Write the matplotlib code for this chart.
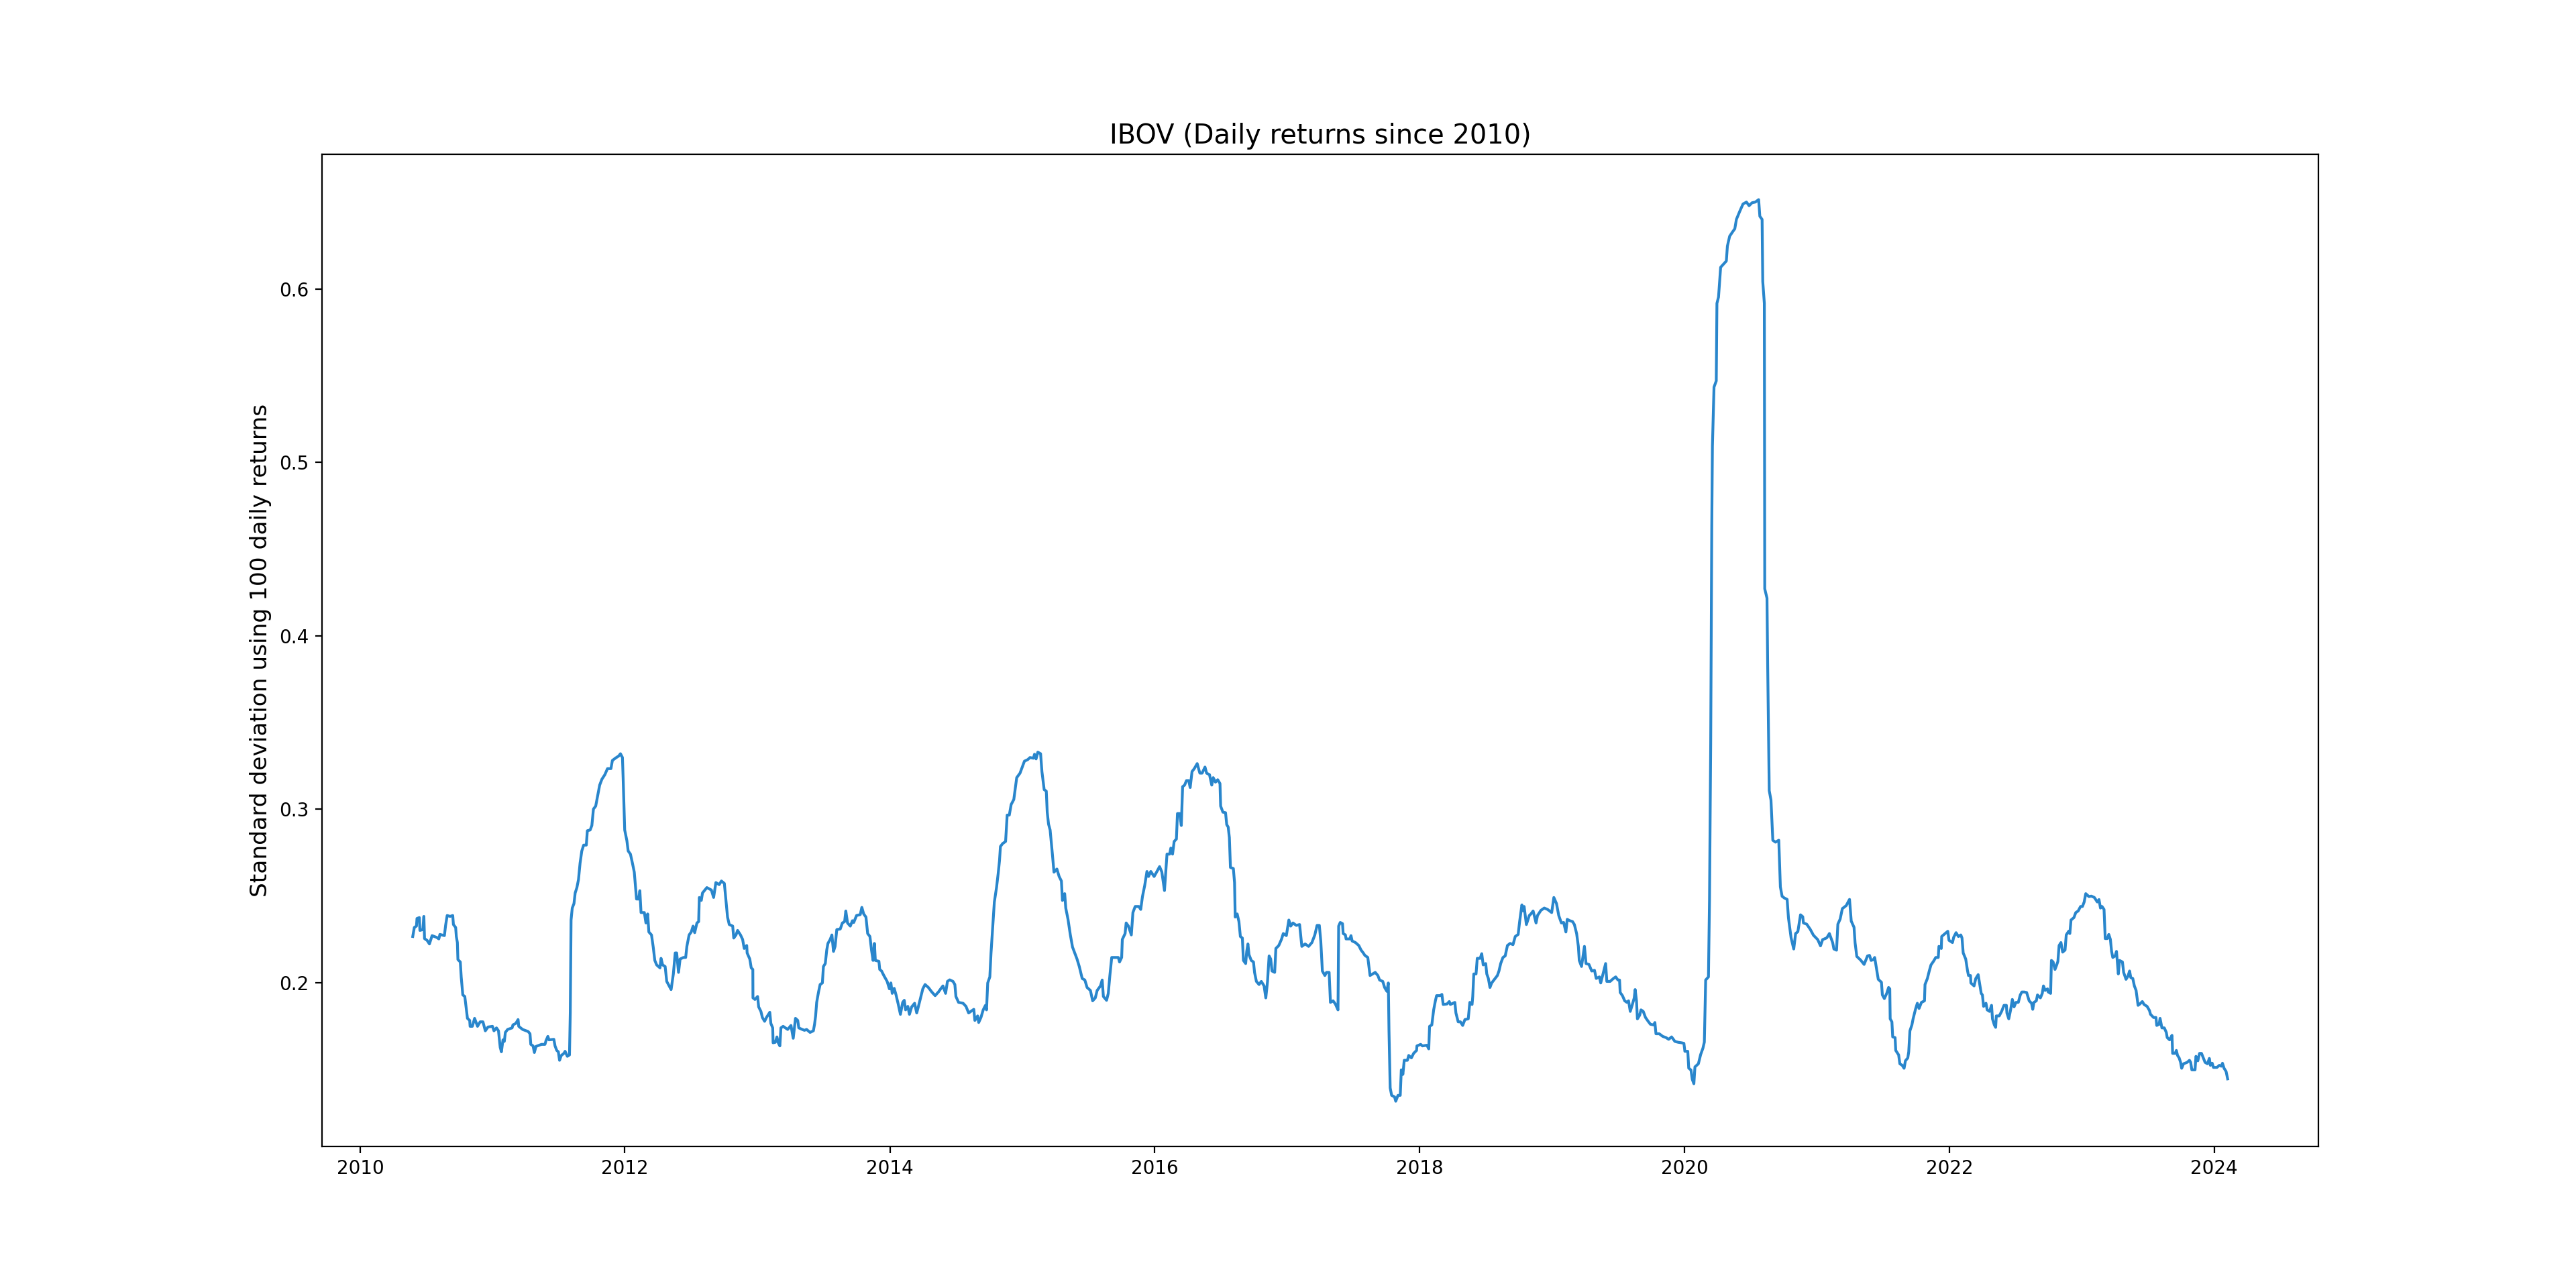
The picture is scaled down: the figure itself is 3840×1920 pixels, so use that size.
import datetime as dt
import matplotlib
matplotlib.use("Agg")
import matplotlib.pyplot as plt

# rolling std (100 daily returns) of IBOV as (decimal year, value)
t_2010_2012 = [2010.397, 2010.409, 2010.425, 2010.429, 2010.447, 2010.451, 2010.473, 2010.481, 2010.486, 2010.506,
               2010.523, 2010.543, 2010.577, 2010.594, 2010.602, 2010.636, 2010.645, 2010.657, 2010.679, 2010.699,
               2010.704, 2010.721, 2010.726, 2010.734, 2010.738, 2010.756, 2010.763, 2010.775, 2010.790, 2010.797,
               2010.810, 2010.827, 2010.830, 2010.847, 2010.864, 2010.886, 2010.906, 2010.927, 2010.945, 2010.965,
               2010.999, 2011.011, 2011.030, 2011.045, 2011.058, 2011.067, 2011.079, 2011.089, 2011.097, 2011.114,
               2011.148, 2011.154, 2011.176, 2011.193, 2011.198, 2011.227, 2011.269, 2011.283, 2011.289, 2011.306,
               2011.316, 2011.328, 2011.370, 2011.396, 2011.404, 2011.418, 2011.426, 2011.463, 2011.472, 2011.485,
               2011.497, 2011.506, 2011.519, 2011.539, 2011.548, 2011.565, 2011.581, 2011.587, 2011.593, 2011.602,
               2011.615, 2011.624, 2011.637, 2011.649, 2011.661, 2011.674, 2011.688, 2011.708, 2011.716, 2011.737,
               2011.750, 2011.762, 2011.779, 2011.792, 2011.809, 2011.826, 2011.848, 2011.868, 2011.894, 2011.905,
               2011.927, 2011.953, 2011.966, 2011.981, 2011.986, 2011.998, 2012.015, 2012.025, 2012.042, 2012.057,
               2012.071, 2012.088, 2012.105, 2012.113, 2012.122, 2012.147, 2012.159, 2012.172, 2012.181, 2012.201,
               2012.214, 2012.226, 2012.240, 2012.265, 2012.273, 2012.285, 2012.304, 2012.316, 2012.332, 2012.349,
               2012.366, 2012.380, 2012.391, 2012.405, 2012.417, 2012.442, 2012.459, 2012.468, 2012.485, 2012.501,
               2012.515, 2012.527, 2012.544, 2012.557, 2012.562, 2012.577, 2012.586, 2012.619, 2012.653, 2012.670,
               2012.687, 2012.712, 2012.729, 2012.751]
v_2010_2012 = [0.2266, 0.2318, 0.2326, 0.2370, 0.2375, 0.2301, 0.2306, 0.2382, 0.2254, 0.2243,
               0.2223, 0.2271, 0.2261, 0.2252, 0.2278, 0.2271, 0.2330, 0.2387, 0.2382, 0.2387,
               0.2335, 0.2318, 0.2266, 0.2231, 0.2133, 0.2119, 0.2032, 0.1929, 0.1920, 0.1877,
               0.1794, 0.1782, 0.1748, 0.1748, 0.1794, 0.1748, 0.1774, 0.1774, 0.1722, 0.1744,
               0.1748, 0.1722, 0.1739, 0.1722, 0.1627, 0.1601, 0.1670, 0.1661, 0.1713, 0.1730,
               0.1739, 0.1756, 0.1765, 0.1787, 0.1748, 0.1730, 0.1718, 0.1705, 0.1644, 0.1635,
               0.1597, 0.1632, 0.1644, 0.1644, 0.1666, 0.1690, 0.1670, 0.1673, 0.1635, 0.1609,
               0.1601, 0.1552, 0.1580, 0.1592, 0.1604, 0.1575, 0.1583, 0.1825, 0.2361, 0.2430,
               0.2456, 0.2517, 0.2548, 0.2594, 0.2689, 0.2759, 0.2793, 0.2793, 0.2876, 0.2880,
               0.2906, 0.3001, 0.3018, 0.3070, 0.3139, 0.3173, 0.3199, 0.3234, 0.3234, 0.3281,
               0.3294, 0.3307, 0.3320, 0.3298, 0.3182, 0.2880, 0.2819, 0.2759, 0.2741, 0.2689,
               0.2637, 0.2482, 0.2482, 0.2530, 0.2404, 0.2404, 0.2344, 0.2396, 0.2292, 0.2275,
               0.2205, 0.2128, 0.2102, 0.2085, 0.2140, 0.2102, 0.2093, 0.2007, 0.1984, 0.1960,
               0.2050, 0.2171, 0.2171, 0.2059, 0.2136, 0.2145, 0.2145, 0.2209, 0.2275, 0.2292,
               0.2326, 0.2288, 0.2344, 0.2352, 0.2491, 0.2474, 0.2517, 0.2548, 0.2534, 0.2491,
               0.2577, 0.2565, 0.2586, 0.2572]

t_2012_2015 = [2012.775, 2012.788, 2012.814, 2012.822, 2012.839, 2012.851, 2012.873, 2012.889, 2012.901, 2012.920,
               2012.923, 2012.943, 2012.954, 2012.966, 2012.967, 2012.982, 2013.000, 2013.008, 2013.025, 2013.036,
               2013.053, 2013.067, 2013.092, 2013.100, 2013.114, 2013.117, 2013.134, 2013.146, 2013.156, 2013.168,
               2013.176, 2013.193, 2013.227, 2013.252, 2013.261, 2013.269, 2013.286, 2013.303, 2013.311, 2013.337,
               2013.354, 2013.370, 2013.396, 2013.421, 2013.430, 2013.438, 2013.446, 2013.460, 2013.472, 2013.489,
               2013.497, 2013.511, 2013.522, 2013.531, 2013.548, 2013.561, 2013.573, 2013.585, 2013.598, 2013.624,
               2013.640, 2013.657, 2013.666, 2013.679, 2013.700, 2013.716, 2013.726, 2013.747, 2013.775, 2013.787,
               2013.801, 2013.818, 2013.831, 2013.848, 2013.860, 2013.872, 2013.882, 2013.889, 2013.916, 2013.922,
               2013.936, 2013.953, 2013.978, 2013.995, 2014.007, 2014.017, 2014.032, 2014.046, 2014.062, 2014.079,
               2014.096, 2014.108, 2014.118, 2014.135, 2014.147, 2014.164, 2014.186, 2014.202, 2014.214, 2014.231,
               2014.248, 2014.265, 2014.290, 2014.316, 2014.341, 2014.366, 2014.383, 2014.400, 2014.420, 2014.434,
               2014.451, 2014.476, 2014.490, 2014.498, 2014.518, 2014.552, 2014.574, 2014.594, 2014.611, 2014.633,
               2014.641, 2014.662, 2014.670, 2014.687, 2014.704, 2014.721, 2014.729, 2014.738, 2014.754, 2014.763,
               2014.776, 2014.788, 2014.805, 2014.817, 2014.827, 2014.834, 2014.851, 2014.873, 2014.885, 2014.901,
               2014.915, 2014.935, 2014.945, 2014.957, 2014.982, 2014.999, 2015.016, 2015.041, 2015.058, 2015.084,
               2015.092, 2015.104, 2015.117, 2015.138, 2015.148, 2015.165, 2015.181, 2015.188, 2015.198, 2015.210,
               2015.227, 2015.239, 2015.261, 2015.278, 2015.295, 2015.303, 2015.320, 2015.328, 2015.345, 2015.362,
               2015.379]
v_2012_2015 = [0.2378, 0.2335, 0.2326, 0.2257, 0.2275, 0.2301, 0.2275, 0.2249, 0.2197, 0.2214,
               0.2171, 0.2136, 0.2085, 0.2076, 0.1912, 0.1903, 0.1920, 0.1860, 0.1834, 0.1799,
               0.1777, 0.1799, 0.1829, 0.1765, 0.1739, 0.1653, 0.1656, 0.1687, 0.1653, 0.1635,
               0.1739, 0.1748, 0.1730, 0.1753, 0.1713, 0.1679, 0.1794, 0.1782, 0.1739, 0.1730,
               0.1725, 0.1730, 0.1713, 0.1722, 0.1760, 0.1808, 0.1886, 0.1946, 0.1989, 0.1998,
               0.2093, 0.2110, 0.2188, 0.2226, 0.2249, 0.2275, 0.2180, 0.2209, 0.2306, 0.2309,
               0.2344, 0.2352, 0.2413, 0.2344, 0.2326, 0.2357, 0.2347, 0.2387, 0.2392, 0.2434,
               0.2396, 0.2378, 0.2283, 0.2266, 0.2188, 0.2128, 0.2226, 0.2128, 0.2123, 0.2076,
               0.2067, 0.2041, 0.2007, 0.1964, 0.1998, 0.1938, 0.1967, 0.1929, 0.1877, 0.1817,
               0.1886, 0.1898, 0.1843, 0.1863, 0.1817, 0.1860, 0.1881, 0.1825, 0.1860, 0.1912,
               0.1964, 0.1989, 0.1972, 0.1946, 0.1925, 0.1946, 0.1964, 0.1981, 0.1938, 0.2007,
               0.2016, 0.2007, 0.1989, 0.1920, 0.1886, 0.1881, 0.1863, 0.1825, 0.1834, 0.1846,
               0.1782, 0.1808, 0.1770, 0.1799, 0.1843, 0.1869, 0.1843, 0.1998, 0.2033, 0.2171,
               0.2326, 0.2464, 0.2551, 0.2629, 0.2703, 0.2785, 0.2802, 0.2814, 0.2966, 0.2966,
               0.3027, 0.3056, 0.3113, 0.3182, 0.3208, 0.3243, 0.3277, 0.3286, 0.3298, 0.3294,
               0.3317, 0.3290, 0.3329, 0.3320, 0.3217, 0.3113, 0.3104, 0.2983, 0.2914, 0.2880,
               0.2741, 0.2637, 0.2655, 0.2612, 0.2586, 0.2474, 0.2513, 0.2430, 0.2365, 0.2278,
               0.2205]

t_2015_2018 = [2015.396, 2015.413, 2015.430, 2015.452, 2015.472, 2015.489, 2015.514, 2015.531, 2015.551, 2015.565,
               2015.590, 2015.603, 2015.612, 2015.636, 2015.649, 2015.661, 2015.675, 2015.700, 2015.725, 2015.734,
               2015.750, 2015.755, 2015.776, 2015.784, 2015.801, 2015.823, 2015.835, 2015.852, 2015.880, 2015.894,
               2015.907, 2015.924, 2015.941, 2015.953, 2015.970, 2015.995, 2016.015, 2016.037, 2016.054, 2016.074,
               2016.083, 2016.093, 2016.113, 2016.122, 2016.135, 2016.147, 2016.164, 2016.172, 2016.189, 2016.201,
               2016.211, 2016.226, 2016.240, 2016.257, 2016.268, 2016.282, 2016.299, 2016.321, 2016.341, 2016.358,
               2016.380, 2016.392, 2016.414, 2016.431, 2016.442, 2016.459, 2016.476, 2016.493, 2016.498, 2016.515,
               2016.535, 2016.544, 2016.555, 2016.564, 2016.572, 2016.594, 2016.603, 2016.608, 2016.623, 2016.636,
               2016.647, 2016.662, 2016.670, 2016.687, 2016.695, 2016.704, 2016.712, 2016.729, 2016.746, 2016.754,
               2016.768, 2016.788, 2016.805, 2016.826, 2016.839, 2016.852, 2016.864, 2016.876, 2016.886, 2016.906,
               2016.915, 2016.937, 2016.957, 2016.971, 2016.994, 2017.011, 2017.025, 2017.042, 2017.067, 2017.092,
               2017.101, 2017.109, 2017.134, 2017.160, 2017.185, 2017.207, 2017.224, 2017.241, 2017.252, 2017.264,
               2017.283, 2017.295, 2017.315, 2017.325, 2017.345, 2017.362, 2017.382, 2017.387, 2017.399, 2017.416,
               2017.421, 2017.438, 2017.443, 2017.472, 2017.480, 2017.489, 2017.514, 2017.539, 2017.556, 2017.573,
               2017.585, 2017.607, 2017.624, 2017.644, 2017.663, 2017.683, 2017.696, 2017.720, 2017.734, 2017.751,
               2017.762, 2017.767, 2017.776, 2017.787, 2017.809, 2017.818, 2017.835, 2017.852, 2017.860, 2017.872,
               2017.882, 2017.906, 2017.916]
v_2015_2018 = [0.2171, 0.2136, 0.2093, 0.2024, 0.2015, 0.1972, 0.1955, 0.1895, 0.1912, 0.1955,
               0.1981, 0.2015, 0.1920, 0.1898, 0.1938, 0.2041, 0.2145, 0.2145, 0.2145, 0.2119,
               0.2145, 0.2249, 0.2283, 0.2344, 0.2326, 0.2275, 0.2404, 0.2439, 0.2439, 0.2422,
               0.2496, 0.2560, 0.2641, 0.2612, 0.2641, 0.2612, 0.2638, 0.2669, 0.2638, 0.2531,
               0.2629, 0.2741, 0.2741, 0.2776, 0.2741, 0.2814, 0.2828, 0.2975, 0.2975, 0.2906,
               0.3130, 0.3139, 0.3165, 0.3165, 0.3125, 0.3217, 0.3234, 0.3263, 0.3208, 0.3208,
               0.3243, 0.3208, 0.3199, 0.3139, 0.3182, 0.3156, 0.3170, 0.3148, 0.3018, 0.2983,
               0.2980, 0.2911, 0.2897, 0.2836, 0.2664, 0.2658, 0.2577, 0.2378, 0.2396, 0.2352,
               0.2266, 0.2257, 0.2128, 0.2110, 0.2180, 0.2223, 0.2162, 0.2128, 0.2119, 0.2059,
               0.2007, 0.1989, 0.2007, 0.1981, 0.1912, 0.2007, 0.2154, 0.2136, 0.2067, 0.2059,
               0.2197, 0.2214, 0.2249, 0.2283, 0.2271, 0.2361, 0.2326, 0.2344, 0.2330, 0.2335,
               0.2266, 0.2209, 0.2223, 0.2209, 0.2231, 0.2275, 0.2330, 0.2330, 0.2240, 0.2067,
               0.2041, 0.2059, 0.2059, 0.1886, 0.1895, 0.1877, 0.1843, 0.2326, 0.2347, 0.2340,
               0.2283, 0.2275, 0.2252, 0.2252, 0.2271, 0.2240, 0.2231, 0.2214, 0.2188, 0.2171,
               0.2157, 0.2145, 0.2041, 0.2050, 0.2059, 0.2041, 0.2015, 0.2007, 0.1972, 0.1950,
               0.1998, 0.1722, 0.1393, 0.1350, 0.1341, 0.1316, 0.1350, 0.1350, 0.1497, 0.1471,
               0.1552, 0.1552, 0.1580]

t_2018_2020 = [2017.936, 2017.953, 2017.975, 2017.978, 2018.007, 2018.020, 2018.054, 2018.068, 2018.074, 2018.091,
               2018.105, 2018.118, 2018.127, 2018.155, 2018.167, 2018.177, 2018.206, 2018.223, 2018.231, 2018.265,
               2018.273, 2018.290, 2018.307, 2018.324, 2018.341, 2018.366, 2018.378, 2018.395, 2018.400, 2018.408,
               2018.425, 2018.434, 2018.456, 2018.468, 2018.479, 2018.498, 2018.506, 2018.518, 2018.530, 2018.543,
               2018.569, 2018.586, 2018.598, 2018.611, 2018.628, 2018.645, 2018.662, 2018.682, 2018.704, 2018.721,
               2018.743, 2018.754, 2018.771, 2018.783, 2018.788, 2018.805, 2018.827, 2018.839, 2018.856, 2018.878,
               2018.889, 2018.915, 2018.940, 2018.965, 2018.996, 2019.013, 2019.033, 2019.050, 2019.070, 2019.087,
               2019.104, 2019.114, 2019.134, 2019.154, 2019.168, 2019.185, 2019.198, 2019.205, 2019.222, 2019.244,
               2019.256, 2019.278, 2019.299, 2019.320, 2019.333, 2019.357, 2019.367, 2019.387, 2019.404, 2019.413,
               2019.438, 2019.463, 2019.480, 2019.497, 2019.509, 2019.514, 2019.531, 2019.548, 2019.565, 2019.577,
               2019.590, 2019.607, 2019.620, 2019.627, 2019.637, 2019.644, 2019.661, 2019.671, 2019.688, 2019.705,
               2019.725, 2019.742, 2019.767, 2019.776, 2019.784, 2019.809, 2019.835, 2019.860, 2019.880, 2019.902,
               2019.927, 2019.952, 2019.978]
v_2018_2020 = [0.1566, 0.1592, 0.1609, 0.1635, 0.1644, 0.1635, 0.1639, 0.1618, 0.1748, 0.1756,
               0.1843, 0.1895, 0.1925, 0.1925, 0.1932, 0.1874, 0.1877, 0.1891, 0.1874, 0.1886,
               0.1825, 0.1774, 0.1774, 0.1753, 0.1787, 0.1791, 0.1886, 0.1874, 0.1920, 0.2050,
               0.2050, 0.2140, 0.2140, 0.2167, 0.2102, 0.2110, 0.2050, 0.2024, 0.1972, 0.1998,
               0.2024, 0.2041, 0.2067, 0.2110, 0.2145, 0.2154, 0.2214, 0.2226, 0.2219, 0.2266,
               0.2278, 0.2352, 0.2448, 0.2413, 0.2439, 0.2335, 0.2387, 0.2396, 0.2413, 0.2344,
               0.2387, 0.2417, 0.2430, 0.2422, 0.2404, 0.2491, 0.2456, 0.2387, 0.2344, 0.2347,
               0.2292, 0.2365, 0.2357, 0.2352, 0.2335, 0.2283, 0.2209, 0.2128, 0.2093, 0.2209,
               0.2110, 0.2105, 0.2067, 0.2071, 0.2024, 0.2033, 0.1998, 0.2059, 0.2110, 0.2007,
               0.2007, 0.2024, 0.2033, 0.2015, 0.2015, 0.1943, 0.1925, 0.1895, 0.1886, 0.1895,
               0.1834, 0.1877, 0.1912, 0.1960, 0.1895, 0.1791, 0.1812, 0.1843, 0.1834, 0.1799,
               0.1777, 0.1760, 0.1756, 0.1770, 0.1705, 0.1705, 0.1690, 0.1683, 0.1673, 0.1687,
               0.1661, 0.1656, 0.1653]

t_2020_2021 = [2019.995, 2020.003, 2020.025, 2020.032, 2020.049, 2020.059, 2020.071, 2020.079, 2020.105, 2020.122,
               2020.139, 2020.150, 2020.160, 2020.181, 2020.189, 2020.198, 2020.206, 2020.211, 2020.223, 2020.240,
               2020.245, 2020.257, 2020.273, 2020.290, 2020.316, 2020.324, 2020.341, 2020.363, 2020.380, 2020.392,
               2020.417, 2020.442, 2020.468, 2020.488, 2020.510, 2020.535, 2020.560, 2020.569, 2020.586, 2020.591,
               2020.603, 2020.606, 2020.623, 2020.628, 2020.640, 2020.653, 2020.667, 2020.687, 2020.712, 2020.724,
               2020.737, 2020.754, 2020.775, 2020.785, 2020.805, 2020.825, 2020.839, 2020.856, 2020.876, 2020.893,
               2020.898, 2020.923, 2020.949, 2020.974, 2021.004, 2021.025, 2021.041, 2021.072, 2021.092, 2021.117,
               2021.126, 2021.146, 2021.156, 2021.173, 2021.190, 2021.219, 2021.244, 2021.257, 2021.278, 2021.286,
               2021.299, 2021.328, 2021.354]
v_2020_2021 = [0.1650, 0.1604, 0.1604, 0.1507, 0.1496, 0.1442, 0.1417, 0.1514, 0.1532, 0.1585,
               0.1621, 0.1657, 0.2015, 0.2033, 0.2480, 0.3375, 0.4628, 0.5094, 0.5434, 0.5470,
               0.5917, 0.5953, 0.6125, 0.6139, 0.6161, 0.6247, 0.6304, 0.6329, 0.6347, 0.6401,
               0.6447, 0.6490, 0.6501, 0.6480, 0.6497, 0.6501, 0.6515, 0.6419, 0.6401, 0.6043,
               0.5917, 0.4271, 0.4217, 0.3841, 0.3107, 0.3053, 0.2821, 0.2810, 0.2821, 0.2552,
               0.2498, 0.2488, 0.2480, 0.2373, 0.2258, 0.2194, 0.2283, 0.2294, 0.2391, 0.2380,
               0.2344, 0.2337, 0.2308, 0.2273, 0.2248, 0.2212, 0.2248, 0.2258, 0.2283, 0.2230,
               0.2194, 0.2187, 0.2337, 0.2366, 0.2427, 0.2444, 0.2480, 0.2355, 0.2319, 0.2230,
               0.2151, 0.2130, 0.2105]

t_2021_2024 = [2021.380, 2021.395, 2021.407, 2021.425, 2021.434, 2021.449, 2021.461, 2021.485, 2021.492, 2021.507,
               2021.525, 2021.539, 2021.548, 2021.551, 2021.564, 2021.570, 2021.588, 2021.593, 2021.615, 2021.624,
               2021.642, 2021.656, 2021.666, 2021.684, 2021.691, 2021.700, 2021.715, 2021.724, 2021.742, 2021.756,
               2021.769, 2021.787, 2021.810, 2021.814, 2021.832, 2021.846, 2021.859, 2021.878, 2021.895, 2021.914,
               2021.919, 2021.937, 2021.940, 2021.958, 2021.986, 2021.995, 2022.022, 2022.031, 2022.049, 2022.067,
               2022.085, 2022.094, 2022.103, 2022.122, 2022.136, 2022.143, 2022.158, 2022.161, 2022.185, 2022.198,
               2022.216, 2022.226, 2022.239, 2022.248, 2022.257, 2022.275, 2022.284, 2022.302, 2022.317, 2022.324,
               2022.338, 2022.348, 2022.353, 2022.375, 2022.393, 2022.411, 2022.429, 2022.433, 2022.447, 2022.461,
               2022.474, 2022.487, 2022.501, 2022.519, 2022.534, 2022.546, 2022.564, 2022.582, 2022.591, 2022.601,
               2022.619, 2022.628, 2022.637, 2022.655, 2022.664, 2022.686, 2022.700, 2022.709, 2022.722, 2022.740,
               2022.745, 2022.763, 2022.769, 2022.782, 2022.796, 2022.809, 2022.818, 2022.827, 2022.841, 2022.854,
               2022.872, 2022.881, 2022.899, 2022.908, 2022.917, 2022.939, 2022.953, 2022.971, 2022.989, 2023.004,
               2023.017, 2023.029, 2023.053, 2023.071, 2023.094, 2023.116, 2023.129, 2023.140, 2023.152, 2023.167,
               2023.176, 2023.192, 2023.203, 2023.215, 2023.224, 2023.233, 2023.251, 2023.261, 2023.275, 2023.284,
               2023.306, 2023.315, 2023.333, 2023.347, 2023.360, 2023.369, 2023.384, 2023.396, 2023.409, 2023.424,
               2023.438, 2023.456, 2023.469, 2023.492, 2023.510, 2023.518, 2023.541, 2023.559, 2023.565, 2023.583,
               2023.590, 2023.604, 2023.622, 2023.637, 2023.644, 2023.662, 2023.680, 2023.685, 2023.704, 2023.713,
               2023.722, 2023.734, 2023.745, 2023.753, 2023.767, 2023.794, 2023.812, 2023.821, 2023.830, 2023.854,
               2023.861, 2023.875, 2023.888, 2023.903, 2023.915, 2023.930, 2023.948, 2023.962, 2023.970, 2023.984,
               2023.993, 2024.020, 2024.038, 2024.053, 2024.062, 2024.074, 2024.089, 2024.101]
v_2021_2024 = [0.2154, 0.2157, 0.2128, 0.2133, 0.2145, 0.2076, 0.2019, 0.2002, 0.1929, 0.1908,
               0.1938, 0.1972, 0.1964, 0.1791, 0.1774, 0.1687, 0.1683, 0.1609, 0.1583, 0.1532,
               0.1523, 0.1506, 0.1549, 0.1566, 0.1601, 0.1722, 0.1756, 0.1791, 0.1846, 0.1881,
               0.1851, 0.1886, 0.1895, 0.1989, 0.2024, 0.2067, 0.2102, 0.2123, 0.2145, 0.2145,
               0.2209, 0.2197, 0.2266, 0.2278, 0.2296, 0.2244, 0.2231, 0.2261, 0.2288, 0.2266,
               0.2275, 0.2257, 0.2171, 0.2136, 0.2067, 0.2041, 0.2041, 0.1998, 0.1981, 0.2024,
               0.2046, 0.1998, 0.1938, 0.1929, 0.1863, 0.1881, 0.1843, 0.1834, 0.1869, 0.1791,
               0.1756, 0.1742, 0.1808, 0.1808, 0.1834, 0.1869, 0.1869, 0.1825, 0.1791, 0.1843,
               0.1903, 0.1860, 0.1886, 0.1886, 0.1929, 0.1946, 0.1946, 0.1943, 0.1920, 0.1895,
               0.1881, 0.1846, 0.1886, 0.1895, 0.1929, 0.1912, 0.1938, 0.1981, 0.1955, 0.1964,
               0.1946, 0.1938, 0.2128, 0.2119, 0.2076, 0.2102, 0.2123, 0.2214, 0.2231, 0.2176,
               0.2188, 0.2275, 0.2296, 0.2283, 0.2361, 0.2375, 0.2404, 0.2413, 0.2439, 0.2439,
               0.2465, 0.2513, 0.2496, 0.2499, 0.2491, 0.2465, 0.2479, 0.2430, 0.2439, 0.2422,
               0.2254, 0.2254, 0.2278, 0.2249, 0.2180, 0.2145, 0.2154, 0.2180, 0.2050, 0.2128,
               0.2119, 0.2059, 0.2019, 0.2036, 0.2067, 0.2029, 0.2024, 0.1981, 0.1955, 0.1869,
               0.1877, 0.1891, 0.1874, 0.1863, 0.1839, 0.1817, 0.1799, 0.1799, 0.1753, 0.1760,
               0.1794, 0.1739, 0.1739, 0.1713, 0.1683, 0.1670, 0.1696, 0.1592, 0.1592, 0.1609,
               0.1580, 0.1566, 0.1540, 0.1506, 0.1532, 0.1540, 0.1552, 0.1540, 0.1497, 0.1497,
               0.1575, 0.1549, 0.1592, 0.1592, 0.1569, 0.1540, 0.1532, 0.1563, 0.1523, 0.1535,
               0.1511, 0.1511, 0.1523, 0.1518, 0.1535, 0.1506, 0.1488, 0.1445]

years = t_2010_2012 + t_2012_2015 + t_2015_2018 + t_2018_2020 + t_2020_2021 + t_2021_2024
std_100d = v_2010_2012 + v_2012_2015 + v_2015_2018 + v_2018_2020 + v_2020_2021 + v_2021_2024


def to_date(y):
    # decimal year -> datetime
    base = dt.datetime(int(y), 1, 1)
    return base + dt.timedelta(days=(y - int(y)) * 365.25)


dates = [to_date(y) for y in years]

fig, ax = plt.subplots(figsize=(19.2, 9.6), dpi=200)
ax.plot(dates, std_100d, color='#2986cc')
ax.set_title('IBOV (Daily returns since 2010)', fontsize='x-large')
ax.set_ylabel('Standard deviation using 100 daily returns', fontsize=12.4)

fig.savefig('out.png', dpi=200)
